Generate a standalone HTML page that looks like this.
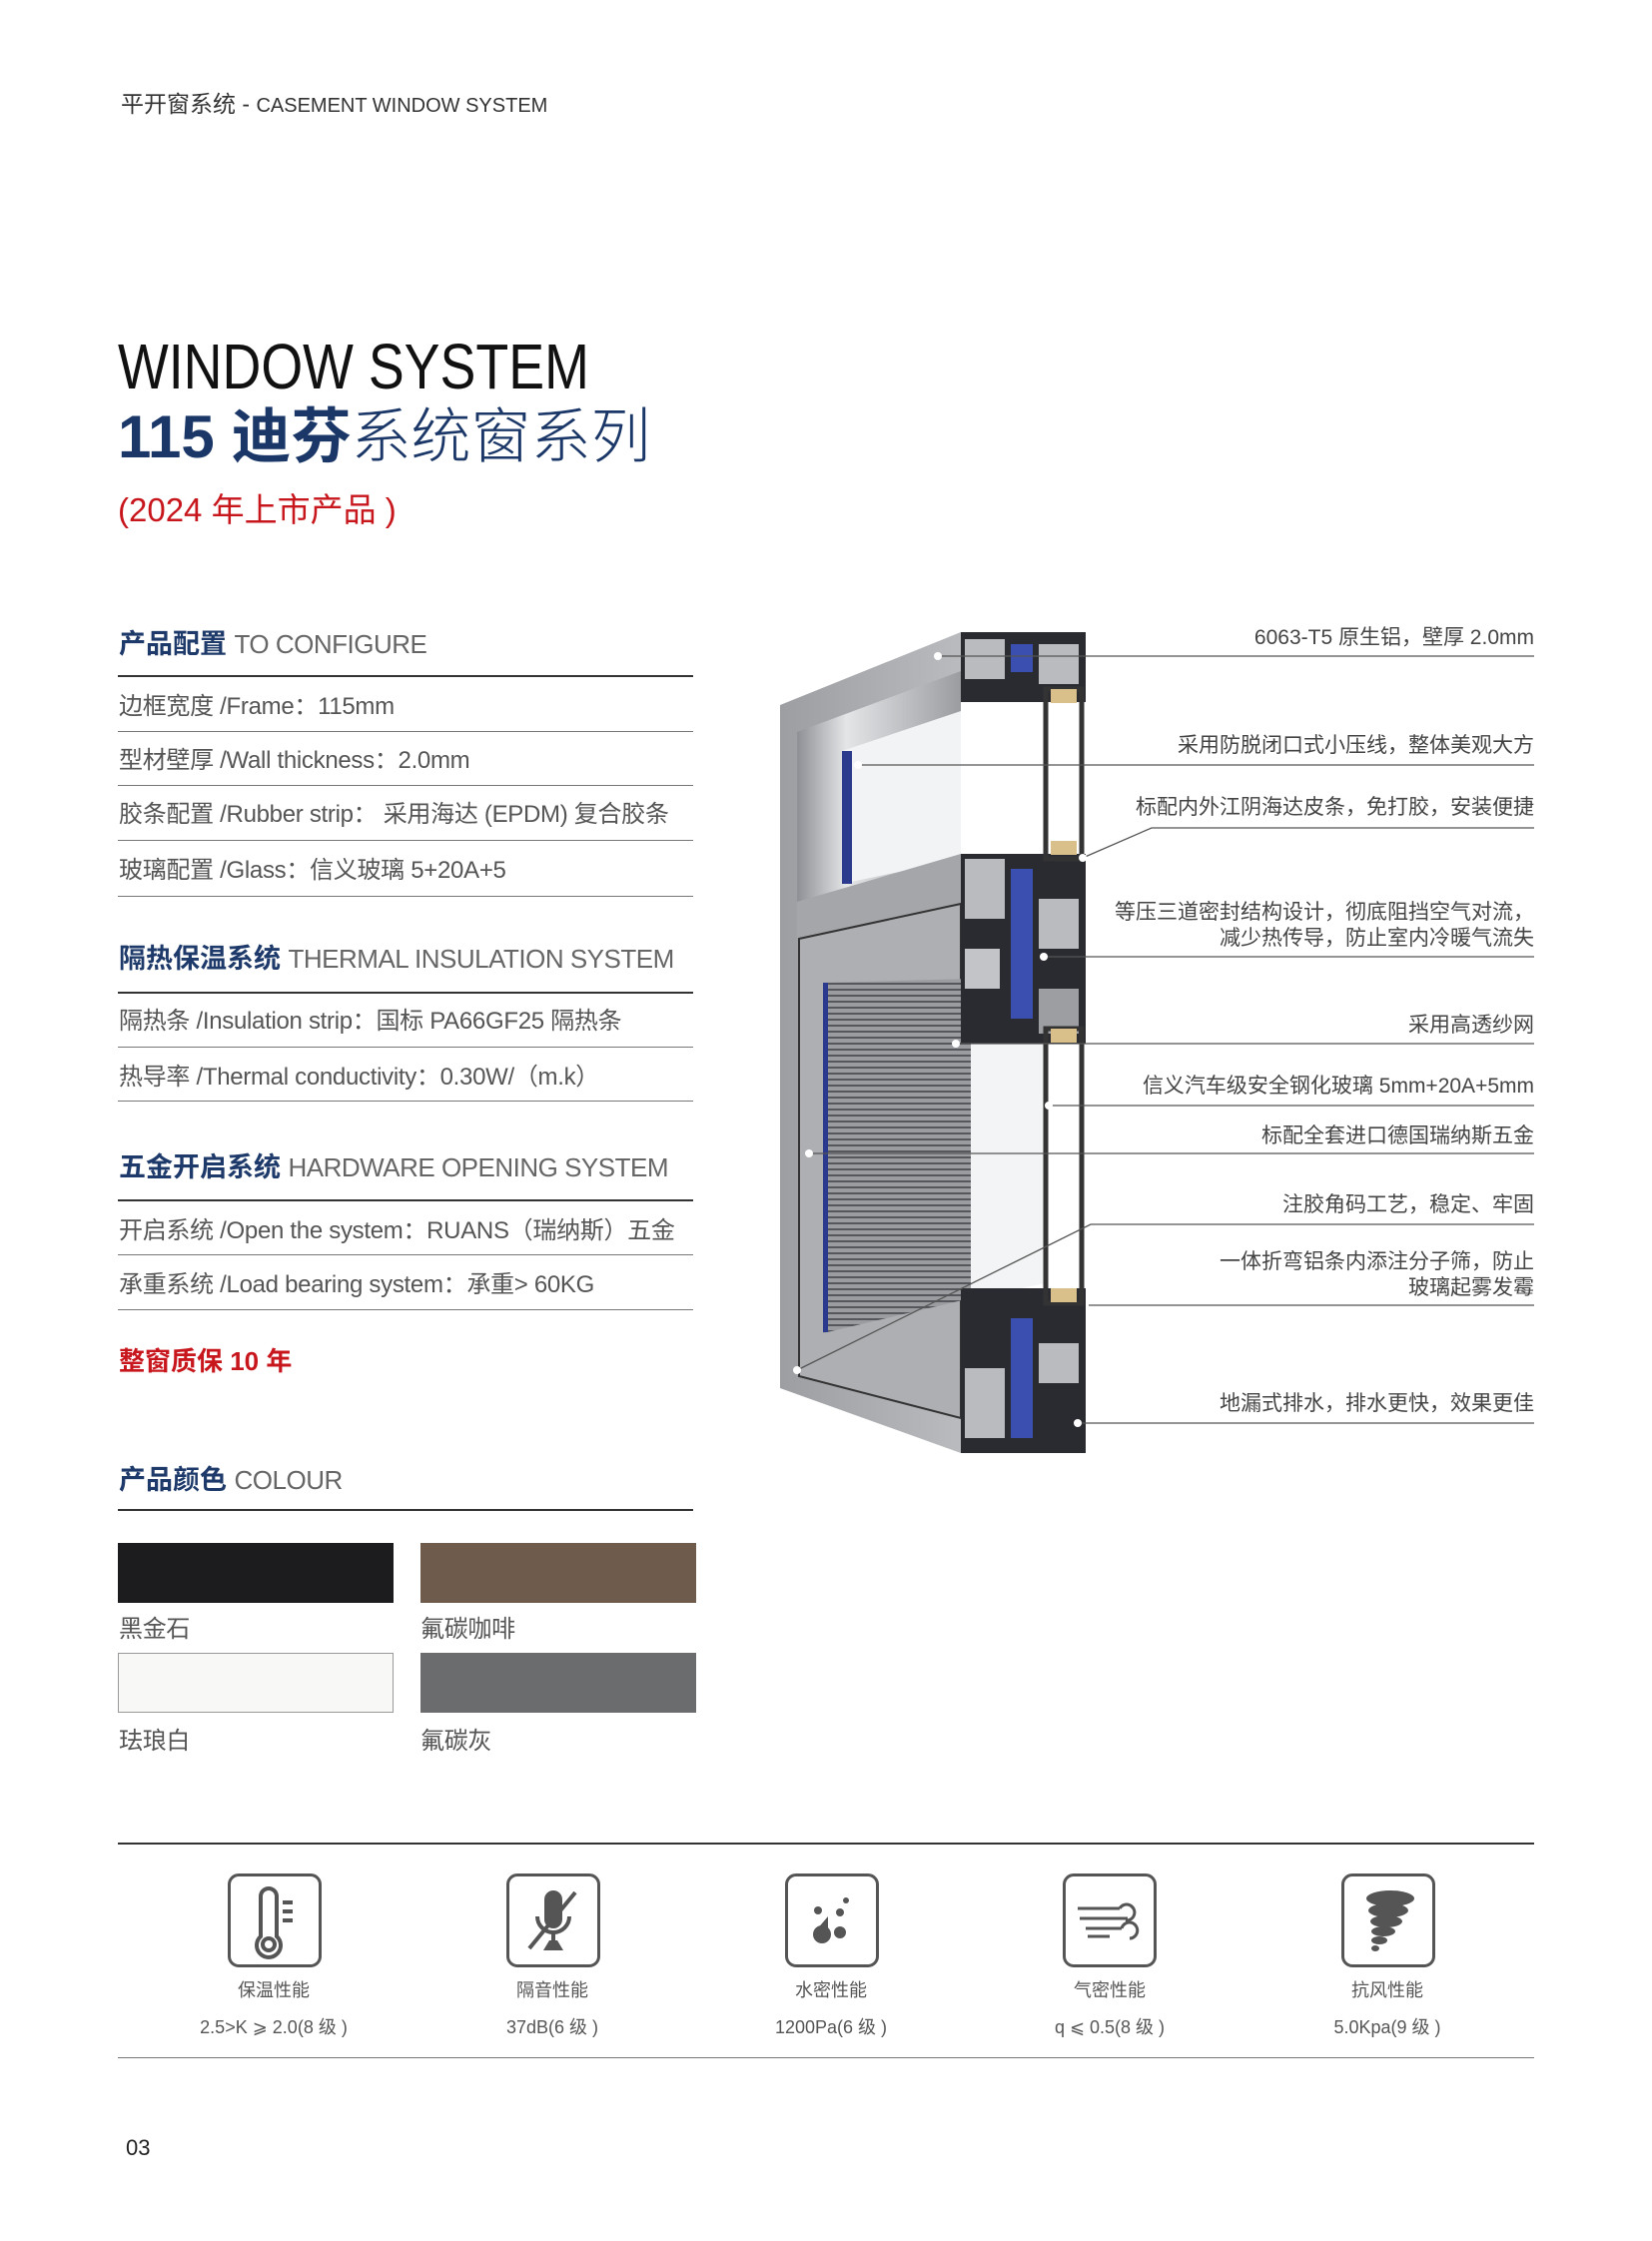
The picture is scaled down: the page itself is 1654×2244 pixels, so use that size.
<!DOCTYPE html>
<html><head><meta charset="utf-8">
<style>
body{margin:0;background:#fff;}
.pg{position:relative;width:1654px;height:2244px;overflow:hidden;background:#fff;font-family:"Liberation Sans","Noto Sans CJK SC",sans-serif;color:#444;}
.t{position:absolute;white-space:nowrap;line-height:1;}
.hl{position:absolute;height:0;border-top:2px solid #333;}
.ln{position:absolute;height:0;border-top:1px solid #777;}
.row{font-size:24px;color:#555;left:119px;letter-spacing:-0.3px;}
.hd{font-size:27px;left:119px;color:#1e3a6a;font-weight:bold;}
.hd span{font-weight:normal;color:#666;font-size:26px;letter-spacing:-0.5px;}
.co{font-size:21px;color:#444;right:118px;text-align:right;}
.sw{position:absolute;width:276px;height:60px;}
.ic{position:absolute;top:1876px;width:88px;height:88px;border:3px solid #555;border-radius:11px;}
.il{font-size:18px;color:#555;text-align:center;width:200px;}
</style></head><body><div class="pg">

<div class="t" style="left:121px;top:93px;font-size:23px;color:#333;">平开窗系统 - <span style="font-size:20px;">CASEMENT WINDOW SYSTEM</span></div>

<div class="t" style="left:118px;top:335px;font-size:64px;color:#111;transform:scaleX(0.84);transform-origin:0 0;">WINDOW SYSTEM</div>
<div class="t" style="left:118px;top:408px;font-size:60px;color:#1a3768;"><b>115 迪芬</b><span style="font-weight:300;">系统窗系列</span></div>
<div class="t" style="left:118px;top:494px;font-size:33px;color:#c8161d;">(2024 年上市产品 )</div>

<div class="t hd" style="top:632px;">产品配置 <span>TO CONFIGURE</span></div>
<div class="hl" style="left:118px;top:676px;width:576px;"></div>
<div class="t row" style="top:696px;">边框宽度 /Frame：115mm</div>
<div class="ln" style="left:118px;top:732px;width:576px;"></div>
<div class="t row" style="top:750px;">型材壁厚 /Wall thickness：2.0mm</div>
<div class="ln" style="left:118px;top:786px;width:576px;"></div>
<div class="t row" style="top:804px;">胶条配置 /Rubber strip： 采用海达 (EPDM) 复合胶条</div>
<div class="ln" style="left:118px;top:841px;width:576px;"></div>
<div class="t row" style="top:860px;">玻璃配置 /Glass：信义玻璃 5+20A+5</div>
<div class="ln" style="left:118px;top:897px;width:576px;"></div>

<div class="t hd" style="top:947px;">隔热保温系统 <span>THERMAL INSULATION SYSTEM</span></div>
<div class="hl" style="left:118px;top:993px;width:576px;"></div>
<div class="t row" style="top:1011px;">隔热条 /Insulation strip：国标 PA66GF25 隔热条</div>
<div class="ln" style="left:118px;top:1048px;width:576px;"></div>
<div class="t row" style="top:1067px;">热导率 /Thermal conductivity：0.30W/（m.k）</div>
<div class="ln" style="left:118px;top:1102px;width:576px;"></div>

<div class="t hd" style="top:1156px;">五金开启系统 <span>HARDWARE OPENING SYSTEM</span></div>
<div class="hl" style="left:118px;top:1201px;width:576px;"></div>
<div class="t row" style="top:1221px;">开启系统 /Open the system：RUANS（瑞纳斯）五金</div>
<div class="ln" style="left:118px;top:1256px;width:576px;"></div>
<div class="t row" style="top:1275px;">承重系统 /Load bearing system：承重&gt; 60KG</div>
<div class="ln" style="left:118px;top:1311px;width:576px;"></div>

<div class="t" style="left:119px;top:1350px;font-size:26px;color:#c8161d;font-weight:bold;">整窗质保 10 年</div>

<div class="t hd" style="top:1469px;">产品颜色 <span>COLOUR</span></div>
<div class="hl" style="left:118px;top:1511px;width:576px;"></div>
<div class="sw" style="left:118px;top:1545px;background:#1c1c1e;"></div>
<div class="sw" style="left:421px;top:1545px;background:#6e5b4c;"></div>
<div class="t row" style="top:1620px;">黑金石</div>
<div class="t row" style="left:421px;top:1620px;">氟碳咖啡</div>
<div class="sw" style="left:118px;top:1655px;background:#f8f8f6;border:1px solid #999;width:274px;height:58px;"></div>
<div class="sw" style="left:421px;top:1655px;background:#6b6c6e;"></div>
<div class="t row" style="top:1732px;">珐琅白</div>
<div class="t row" style="left:421px;top:1732px;">氟碳灰</div>

<!-- Diagram -->
<svg style="position:absolute;left:0;top:0" width="1654" height="2244">
<defs>
<linearGradient id="fr" x1="0" x2="1"><stop offset="0" stop-color="#9c9ea2"/><stop offset="1" stop-color="#b9bbbe"/></linearGradient>
<linearGradient id="rc" x1="0" x2="1"><stop offset="0" stop-color="#8e9095"/><stop offset="0.3" stop-color="#e4e5e7"/><stop offset="1" stop-color="#9a9ca0"/></linearGradient>
<pattern id="mesh" width="6" height="6" patternUnits="userSpaceOnUse"><rect width="6" height="6" fill="#9a9ca0"/><rect width="6" height="2" fill="#55575c"/></pattern>
</defs>
<polygon points="781,706 962,633 962,1455 781,1390" fill="url(#fr)"/>
<polygon points="798,733 962,672 962,860 798,903" fill="url(#rc)"/>
<polygon points="843,752 962,712 962,860 843,885" fill="#f2f3f4"/>
<rect x="843" y="752" width="10" height="133" fill="#2b3a8c"/>
<polygon points="798,903 962,855 962,905 798,940" fill="#a4a6aa"/>
<polygon points="800,940 962,905 962,1420 800,1378" fill="#adafb2" stroke="#333" stroke-width="2"/>
<polygon points="824,984 972,980 972,1300 824,1335" fill="url(#mesh)"/>
<rect x="824" y="984" width="5" height="350" fill="#2b3a8c"/>
<polygon points="972,980 1047,980 1047,1285 972,1300" fill="#f3f4f5"/>
<rect x="962" y="633" width="125" height="70" fill="#2a2b30"/>
<rect x="966" y="640" width="40" height="40" fill="#b9bbbe"/>
<rect x="1012" y="645" width="22" height="28" fill="#3b4fb0"/>
<rect x="1040" y="645" width="40" height="40" fill="#b9bbbe"/>
<rect x="962" y="855" width="125" height="190" fill="#2a2b30"/>
<rect x="966" y="860" width="40" height="60" fill="#b9bbbe"/>
<rect x="1012" y="870" width="22" height="150" fill="#3b4fb0"/>
<rect x="1040" y="900" width="40" height="50" fill="#b9bbbe"/>
<rect x="966" y="950" width="35" height="40" fill="#c3c4c7"/>
<rect x="1040" y="990" width="40" height="45" fill="#9c9ea2"/>
<rect x="962" y="1290" width="125" height="165" fill="#2a2b30"/>
<rect x="966" y="1370" width="40" height="70" fill="#b9bbbe"/>
<rect x="1012" y="1320" width="22" height="120" fill="#3b4fb0"/>
<rect x="1040" y="1345" width="40" height="40" fill="#b9bbbe"/>
<rect x="1047" y="690" width="36" height="170" fill="none" stroke="#333" stroke-width="5"/>
<rect x="1047" y="1030" width="36" height="275" fill="none" stroke="#333" stroke-width="5"/>
<rect x="1052" y="690" width="26" height="14" fill="#d9c08a"/>
<rect x="1052" y="842" width="26" height="14" fill="#d9c08a"/>
<rect x="1052" y="1030" width="26" height="14" fill="#d9c08a"/>
<rect x="1052" y="1290" width="26" height="14" fill="#d9c08a"/>
<g stroke="#555" stroke-width="1.3" fill="none">
<line x1="939" y1="657" x2="1536" y2="657"/>
<line x1="859" y1="766" x2="1536" y2="766"/>
<polyline points="1084,859 1153,829 1536,829"/>
<line x1="1045" y1="958" x2="1536" y2="958"/>
<line x1="957" y1="1045" x2="1536" y2="1045"/>
<line x1="1050" y1="1107" x2="1536" y2="1107"/>
<line x1="810" y1="1155" x2="1536" y2="1155"/>
<polyline points="798,1372 1092,1226 1536,1226"/>
<line x1="1090" y1="1307" x2="1536" y2="1307"/>
<line x1="1079" y1="1425" x2="1536" y2="1425"/>
</g>
<g fill="#fff"><circle cx="939" cy="657" r="4"/><circle cx="859" cy="766" r="4"/><circle cx="1084" cy="859" r="4"/><circle cx="1045" cy="958" r="4"/><circle cx="957" cy="1045" r="4"/><circle cx="1050" cy="1107" r="4"/><circle cx="810" cy="1155" r="4"/><circle cx="798" cy="1372" r="4"/><circle cx="1079" cy="1425" r="4"/></g>
</svg>

<div class="t co" style="top:628px;">6063-T5 原生铝，壁厚 2.0mm</div>
<div class="t co" style="top:736px;">采用防脱闭口式小压线，整体美观大方</div>
<div class="t co" style="top:798px;">标配内外江阴海达皮条，免打胶，安装便捷</div>
<div class="t co" style="top:901px;line-height:26px;">等压三道密封结构设计，彻底阻挡空气对流，<br>减少热传导，防止室内冷暖气流失</div>
<div class="t co" style="top:1016px;">采用高透纱网</div>
<div class="t co" style="top:1077px;">信义汽车级安全钢化玻璃 5mm+20A+5mm</div>
<div class="t co" style="top:1127px;">标配全套进口德国瑞纳斯五金</div>
<div class="t co" style="top:1196px;">注胶角码工艺，稳定、牢固</div>
<div class="t co" style="top:1251px;line-height:26px;">一体折弯铝条内添注分子筛，防止<br>玻璃起雾发霉</div>
<div class="t co" style="top:1395px;">地漏式排水，排水更快，效果更佳</div>

<div class="hl" style="left:118px;top:1845px;width:1418px;"></div>
<div class="ln" style="left:118px;top:2060px;width:1418px;"></div>

<div class="ic" style="left:228px;"><svg width="88" height="88"><g fill="none" stroke="#555" stroke-width="4"><path d="M30 60 V20 a8 8 0 0 1 16 0 V60 a12 12 0 1 1 -16 0z"/><circle cx="38" cy="68" r="6"/></g><g fill="#555"><rect x="52" y="24" width="10" height="4"/><rect x="52" y="33" width="10" height="4"/><rect x="52" y="42" width="10" height="4"/></g></svg></div>
<div class="ic" style="left:507px;"><svg width="88" height="88"><g fill="#555"><rect x="35" y="14" width="18" height="38" rx="9"/><rect x="42" y="56" width="4" height="10"/><polygon points="34,74 54,74 48,64 40,64"/></g><g stroke="#555" stroke-width="4" fill="none"><path d="M28 40 a16 16 0 0 0 32 0"/><line x1="20" y1="72" x2="66" y2="16"/></g></svg></div>
<div class="ic" style="left:786px;"><svg width="88" height="88" fill="#555"><circle cx="34" cy="58" r="9"/><polygon points="28,54 40,54 40,40"/><circle cx="52" cy="56" r="6"/><circle cx="30" cy="34" r="4"/><circle cx="52" cy="36" r="4"/><circle cx="58" cy="24" r="3"/></svg></div>
<div class="ic" style="left:1064px;"><svg width="88" height="88" fill="none" stroke="#555" stroke-width="3"><line x1="12" y1="32" x2="54" y2="32"/><line x1="14" y1="42" x2="62" y2="42"/><line x1="20" y1="52" x2="56" y2="52"/><line x1="22" y1="60" x2="44" y2="60"/><path d="M54 32 a8 8 0 1 1 6 12"/><path d="M56 52 a8 8 0 1 1 8 10"/></svg></div>
<div class="ic" style="left:1343px;"><svg width="88" height="88" fill="#555"><ellipse cx="46" cy="22" rx="24" ry="8"/><ellipse cx="44" cy="34" rx="20" ry="7"/><ellipse cx="42" cy="45" rx="16" ry="6"/><ellipse cx="39" cy="55" rx="12" ry="5"/><ellipse cx="35" cy="64" rx="8" ry="4"/><ellipse cx="31" cy="72" rx="4" ry="3"/></svg></div>

<div class="t il" style="left:174px;top:1984px;">保温性能</div>
<div class="t il" style="left:174px;top:2021px;">2.5&gt;K ⩾ 2.0(8 级 )</div>
<div class="t il" style="left:453px;top:1984px;">隔音性能</div>
<div class="t il" style="left:453px;top:2021px;">37dB(6 级 )</div>
<div class="t il" style="left:732px;top:1984px;">水密性能</div>
<div class="t il" style="left:732px;top:2021px;">1200Pa(6 级 )</div>
<div class="t il" style="left:1011px;top:1984px;">气密性能</div>
<div class="t il" style="left:1011px;top:2021px;">q ⩽ 0.5(8 级 )</div>
<div class="t il" style="left:1289px;top:1984px;">抗风性能</div>
<div class="t il" style="left:1289px;top:2021px;">5.0Kpa(9 级 )</div>

<div class="t" style="left:126px;top:2140px;font-size:22px;color:#222;">03</div>
</div></body></html>
